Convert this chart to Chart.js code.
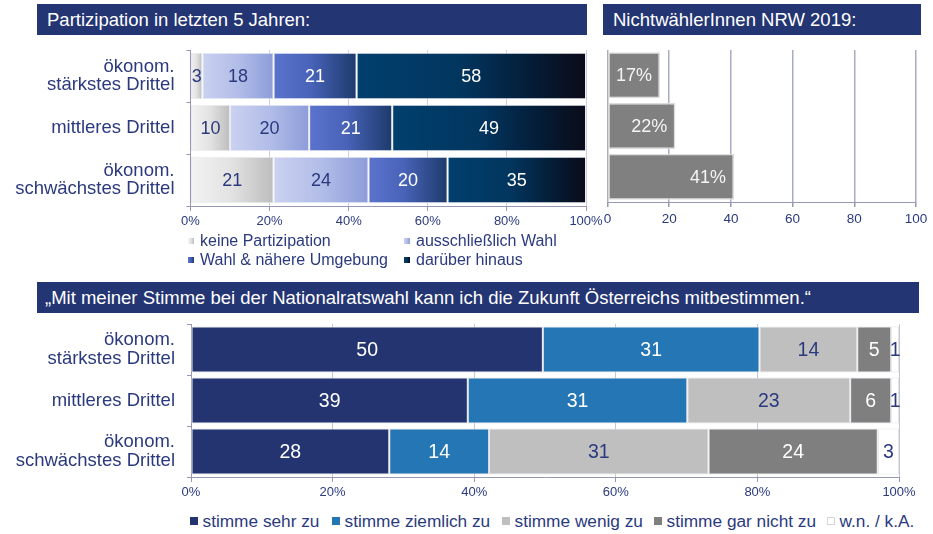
<!DOCTYPE html>
<html><head><meta charset="utf-8">
<script src="https://cdn.jsdelivr.net/npm/chart.js@4.4.1/dist/chart.umd.min.js"></script>
<style>
body{margin:0;width:933px;height:534px;background:#fff;position:relative;overflow:hidden;font-family:"Liberation Sans",Arial,sans-serif;}
.hdr{position:absolute;background:#243573;color:#fff;box-sizing:border-box;height:31px;line-height:31px;font-size:18.5px;white-space:nowrap;}
canvas{position:absolute;}
.li{position:absolute;color:#2b3a7e;white-space:nowrap;display:flex;align-items:center;}
.li i{display:inline-block;flex:none;}
</style></head>
<body>
<div class="hdr" style="left:37px;top:4px;width:550px;padding-left:10px;">Partizipation in letzten 5 Jahren:</div>
<div class="hdr" style="left:603px;top:4px;width:318px;padding-left:10px;">NichtwählerInnen NRW 2019:</div>
<div class="hdr" style="left:37px;top:282px;width:882px;padding-left:8px;">„Mit meiner Stimme bei der Nationalratswahl kann ich die Zukunft Österreichs mitbestimmen.“</div>
<canvas id="c1" width="610" height="195" style="left:0;top:40px"></canvas>
<canvas id="c2" width="343" height="192" style="left:590px;top:40px"></canvas>
<canvas id="c3" width="933" height="192" style="left:0;top:316px"></canvas>
<div id="leg1"></div>
<div id="leg2"></div>
<script>
// ---------- data ----------
const categories = [["ökonom.","stärkstes Drittel"],"mittleres Drittel",["ökonom.","schwächstes Drittel"]];
const partSeries = ["keine Partizipation","ausschließlich Wahl","Wahl & nähere Umgebung","darüber hinaus"];
const keinePartizipation = [3,10,21];
const ausschliesslichWahl = [18,20,24];
const wahlUmgebung = [21,21,20];
const darueberHinaus = [58,49,35];
const nichtwaehlerNRW = [17,22,41];
const pctTickLabels = ["0%","20%","40%","60%","80%","100%"];
const numTickLabels = ["0","20","40","60","80","100"];
const opinionSeries = ["stimme sehr zu","stimme ziemlich zu","stimme wenig zu","stimme gar nicht zu","w.n. / k.A."];
const stimmeSehrZu = [49.7,39.1,28.0];
const stimmeZiemlichZu = [30.6,31.0,14.1];
const stimmeWenigZu = [13.8,23.0,31.0];
const stimmeGarNichtZu = [4.8,5.8,23.9];
const wnKA = [1.1,1.1,3.0];

// ---------- styles ----------
const FONT = '"Liberation Sans", Arial, sans-serif';
const NAVY = '#2b3a7e';
Chart.defaults.font.family = FONT;
Chart.defaults.color = NAVY;

const partArrays = [keinePartizipation, ausschliesslichWahl, wahlUmgebung, darueberHinaus];
const partStops = [
  [[0,'#f3f3f3'],[0.5,'#e2e2e2'],[1,'#bdbdbd']],
  [[0,'#cad2f0'],[0.5,'#b2bde8'],[1,'#8d9cda']],
  [[0,'#5b73cd'],[0.45,'#4863b8'],[1,'#1d3a6c']],
  [[0,'#003f6e'],[0.45,'#02365f'],[0.75,'#041d38'],[1,'#0b0b18']]
];
const partLabelColors = [NAVY, NAVY, '#ffffff', '#ffffff'];

function segGradient(stops, di, arrays){
  return (c)=>{
    const chart = c.chart, xs = chart.scales.x;
    if(!xs || c.dataIndex === undefined) return stops[0][1];
    const i = c.dataIndex;
    let s = 0; for(let k=0;k<di;k++) s += arrays[k][i];
    const e = s + arrays[di][i];
    const x0 = xs.getPixelForValue(s), x1 = xs.getPixelForValue(e);
    if(!isFinite(x0) || !isFinite(x1) || x1 <= x0) return stops[0][1];
    const g = chart.ctx.createLinearGradient(x0,0,x1,0);
    stops.forEach(([p,col])=>g.addColorStop(p,col));
    return g;
  };
}

function labelPlugin(cfg){
  return {
    id:'barLabels_'+Math.random().toString(36).slice(2),
    afterDatasetsDraw(chart){
      const ctx = chart.ctx;
      ctx.save();
      ctx.font = cfg.font;
      ctx.textBaseline = 'middle';
      chart.data.datasets.forEach((ds,di)=>{
        const meta = chart.getDatasetMeta(di);
        meta.data.forEach((el,i)=>{
          const txt = cfg.format(ds.data[i]);
          ctx.fillStyle = cfg.colors[di];
          if(cfg.anchor === 'end'){
            ctx.textAlign = 'right';
            ctx.fillText(txt, el.x - cfg.offset, el.y + 1);
          } else {
            ctx.textAlign = 'center';
            ctx.fillText(txt, (el.x + el.base)/2, el.y + 1);
          }
        });
      });
      ctx.restore();
    }
  };
}

const AXIS = '#9597b3';
const GRID = '#cdcfdc';
const fitY = (w)=>(s)=>{ s.width = w; s.paddingTop = 0; s.paddingBottom = 0; };

// ---------- chart 1: Partizipation ----------
new Chart(document.getElementById('c1'), {
  type:'bar',
  data:{
    labels: categories,
    datasets: partArrays.map((arr,di)=>({
      label: partSeries[di],
      data: arr,
      backgroundColor: segGradient(partStops[di], di, partArrays),
      borderColor:'#e9ebf2', borderWidth:1, borderSkipped:false,
      categoryPercentage:1, barPercentage:0.894
    }))
  },
  options:{
    indexAxis:'y', responsive:false, animation:false,
    layout:{padding:{top:10,right:24,left:0,bottom:0}},
    plugins:{legend:{display:false}, tooltip:{enabled:false}},
    scales:{
      x:{stacked:true, min:0, max:100,
        ticks:{stepSize:20, padding:3, color:NAVY, font:{size:13}, callback:(v,i)=>pctTickLabels[i]},
        grid:{color:GRID, tickColor:AXIS, tickLength:5},
        border:{color:AXIS},
        afterFit:(s)=>{s.height=29;}
      },
      y:{stacked:true,
        ticks:{padding:12, color:NAVY, font:{size:18.5, lineHeight:1.0}},
        grid:{drawOnChartArea:false, color:AXIS, tickLength:4},
        border:{color:AXIS},
        afterFit: fitY(190.5)
      }
    }
  },
  plugins:[labelPlugin({font:'18px '+FONT, colors:partLabelColors, format:v=>String(v)})]
});

// ---------- chart 2: NichtwählerInnen ----------
new Chart(document.getElementById('c2'), {
  type:'bar',
  data:{
    labels: categories,
    datasets:[{label:'NichtwählerInnen NRW 2019', data:nichtwaehlerNRW,
      backgroundColor:'#808080', borderColor:'#dcdcdc', borderWidth:1.5, borderSkipped:false,
      categoryPercentage:1, barPercentage:0.908}]
  },
  options:{
    indexAxis:'y', responsive:false, animation:false,
    layout:{padding:{top:10,right:17,left:17.5,bottom:0}},
    plugins:{legend:{display:false}, tooltip:{enabled:false}},
    scales:{
      x:{min:0, max:100,
        ticks:{stepSize:20, padding:4, color:NAVY, font:{size:13.5}, callback:(v,i)=>numTickLabels[i]},
        grid:{color:'#a9abc5', lineWidth:1.5, tickColor:AXIS, tickLength:5},
        border:{color:AXIS},
        afterFit:(s)=>{s.height=30;}
      },
      y:{display:false}
    }
  },
  plugins:[labelPlugin({font:'18px '+FONT, colors:['#f4f4f4'], anchor:'end', offset:8, format:v=>v+'%'})]
});

// ---------- chart 3: Stimme ----------
const opArrays = [stimmeSehrZu, stimmeZiemlichZu, stimmeWenigZu, stimmeGarNichtZu, wnKA];
const opColors = ['#233470','#2476b4','#bfbfbf','#7f7f7f','#ffffff'];
const opLabelColors = ['#ffffff','#ffffff',NAVY,'#ffffff',NAVY];
new Chart(document.getElementById('c3'), {
  type:'bar',
  data:{
    labels: categories,
    datasets: opArrays.map((arr,di)=>({
      label: opinionSeries[di], data: arr,
      backgroundColor: opColors[di],
      borderColor:'#e2e3ea', borderWidth:1, borderSkipped:false,
      categoryPercentage:1, barPercentage:0.906
    }))
  },
  options:{
    indexAxis:'y', responsive:false, animation:false,
    layout:{padding:{top:8,right:34,left:0,bottom:0}},
    plugins:{legend:{display:false}, tooltip:{enabled:false}},
    scales:{
      x:{stacked:true, min:0, max:100,
        ticks:{stepSize:20, padding:3, color:NAVY, font:{size:13}, callback:(v,i)=>pctTickLabels[i]},
        grid:{color:'#c3c5d4', tickColor:AXIS, tickLength:5},
        border:{color:AXIS},
        afterFit:(s)=>{s.height=31;}
      },
      y:{stacked:true,
        ticks:{padding:12, color:NAVY, font:{size:18.5, lineHeight:1.0}},
        grid:{drawOnChartArea:false, color:AXIS, tickLength:4},
        border:{color:AXIS},
        afterFit: fitY(191)
      }
    }
  },
  plugins:[labelPlugin({font:'19.5px '+FONT, colors:opLabelColors, format:v=>String(Math.round(v))})]
});

// ---------- HTML legends ----------
function legendItem(parent, x, y, size, swatch, text, fs, gap, border){
  const d = document.createElement('div');
  d.className = 'li';
  d.style.left = x+'px'; d.style.top = (y - 11)+'px'; d.style.height='22px'; d.style.fontSize = fs+'px';
  const m = document.createElement('i');
  m.style.width = size+'px'; m.style.height = size+'px'; m.style.background = swatch;
  m.style.marginRight = gap+'px';
  if(border){ m.style.boxSizing='border-box'; m.style.border='1px solid '+border; }
  d.appendChild(m);
  d.appendChild(document.createTextNode(text));
  parent.appendChild(d);
}
const leg1 = document.getElementById('leg1');
const grad = s => 'linear-gradient(90deg,'+s.map(([p,c])=>c+' '+(p*100)+'%').join(',')+')';
const leg1Pos = [[188,241],[404,241],[188,260],[404,260]];
partSeries.forEach((n,i)=>legendItem(leg1, leg1Pos[i][0], leg1Pos[i][1], 6, grad(partStops[i]), n, 16, 6));
const leg2 = document.getElementById('leg2');
const leg2X = [190, 332, 502, 654, 827];
opinionSeries.forEach((n,i)=>legendItem(leg2, leg2X[i], 521, 8, opColors[i], n, 17.25, 4.5, i===4?'#d4d4dc':null));
</script>
</body></html>
